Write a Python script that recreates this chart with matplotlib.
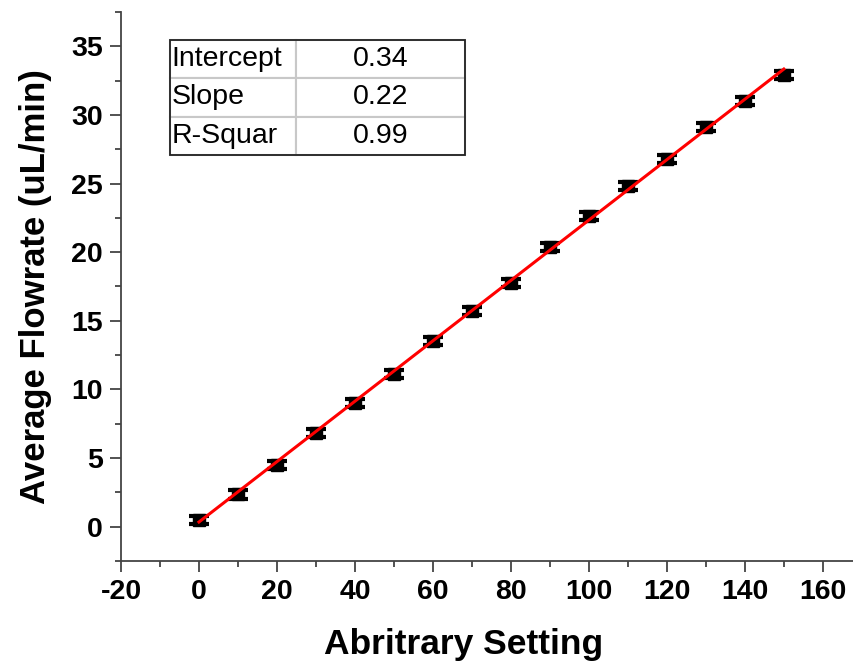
import matplotlib.pyplot as plt
import numpy as np
from matplotlib.ticker import MultipleLocator

plt.rcParams["font.family"] = ["Liberation Sans", "DejaVu Sans"]
plt.rcParams["axes.unicode_minus"] = False

# data
settings = [0, 10, 20, 30, 40, 50, 60, 70, 80, 90, 100, 110, 120, 130, 140, 150]
flowrate = [0.5, 2.35, 4.5, 6.85, 9.0, 11.15, 13.5, 15.7, 17.75, 20.4, 22.65,
            24.8, 26.8, 29.1, 31.0, 32.9]
flow_err = [0.3] * len(settings)

fit_labels = ["Intercept", "Slope", "R-Squar"]
fit_values = ["0.34", "0.22", "0.99"]
fit_intercept = 0.34
fit_slope = 0.22

fig = plt.figure(figsize=(8.54, 6.66), dpi=100)
ax = fig.add_axes([0.1417, 0.1577, 0.8583, 0.8243])

ax.errorbar(settings, flowrate, yerr=flow_err, fmt="s", color="black",
            markersize=9, capsize=7, elinewidth=3, capthick=3, zorder=2)

x_fit = np.array([settings[0], settings[-1]])
ax.plot(x_fit, fit_intercept + fit_slope * x_fit, color="red", linewidth=2.2, zorder=3)

ax.set_xlim(-20, 168)
ax.set_ylim(-2.5, 37.5)
ax.xaxis.set_major_locator(MultipleLocator(20))
ax.xaxis.set_minor_locator(MultipleLocator(10))
ax.yaxis.set_major_locator(MultipleLocator(5))
ax.yaxis.set_minor_locator(MultipleLocator(2.5))

for side in ("top", "right"):
    ax.spines[side].set_visible(False)
for side in ("left", "bottom"):
    ax.spines[side].set_linewidth(1.3)
    ax.spines[side].set_color("#444444")

ax.tick_params(which="major", length=8, width=1.3, color="#444444",
               labelsize=20.5, direction="out", pad=5)
ax.tick_params(which="minor", length=4, width=1.3, color="#444444", direction="out")
for lbl in ax.get_xticklabels() + ax.get_yticklabels():
    lbl.set_fontweight("bold")

ax.set_xlabel("Abritrary Setting", fontsize=25.5, fontweight="bold")
ax.xaxis.set_label_coords(0.467, -0.123)
ax.set_ylabel("Average Flowrate (uL/min)", fontsize=25, fontweight="bold", labelpad=14)

# fit summary table
tbl = ax.table(cellText=[[l, v] for l, v in zip(fit_labels, fit_values)],
               bbox=[0.0668, 0.7395, 0.402, 0.2095], colWidths=[0.427, 0.573],
               cellLoc="center", zorder=5)
tbl.auto_set_font_size(False)
for (r, c), cell in tbl.get_celld().items():
    cell.set_edgecolor("#c8c8c8")
    cell.set_linewidth(1.5)
    cell.set_facecolor("white")
    cell.get_text().set_fontsize(20.5)
    if c == 0:
        cell._loc = "left"
        cell.get_text().set_ha("left")
        cell.PAD = 0.01

# black outer border around the table
ax.add_patch(plt.Rectangle((0.0668, 0.7395), 0.402, 0.2095, transform=ax.transAxes,
                           fill=False, edgecolor="#222222", linewidth=1.3, zorder=6))

fig.savefig("out.png", dpi=100)
